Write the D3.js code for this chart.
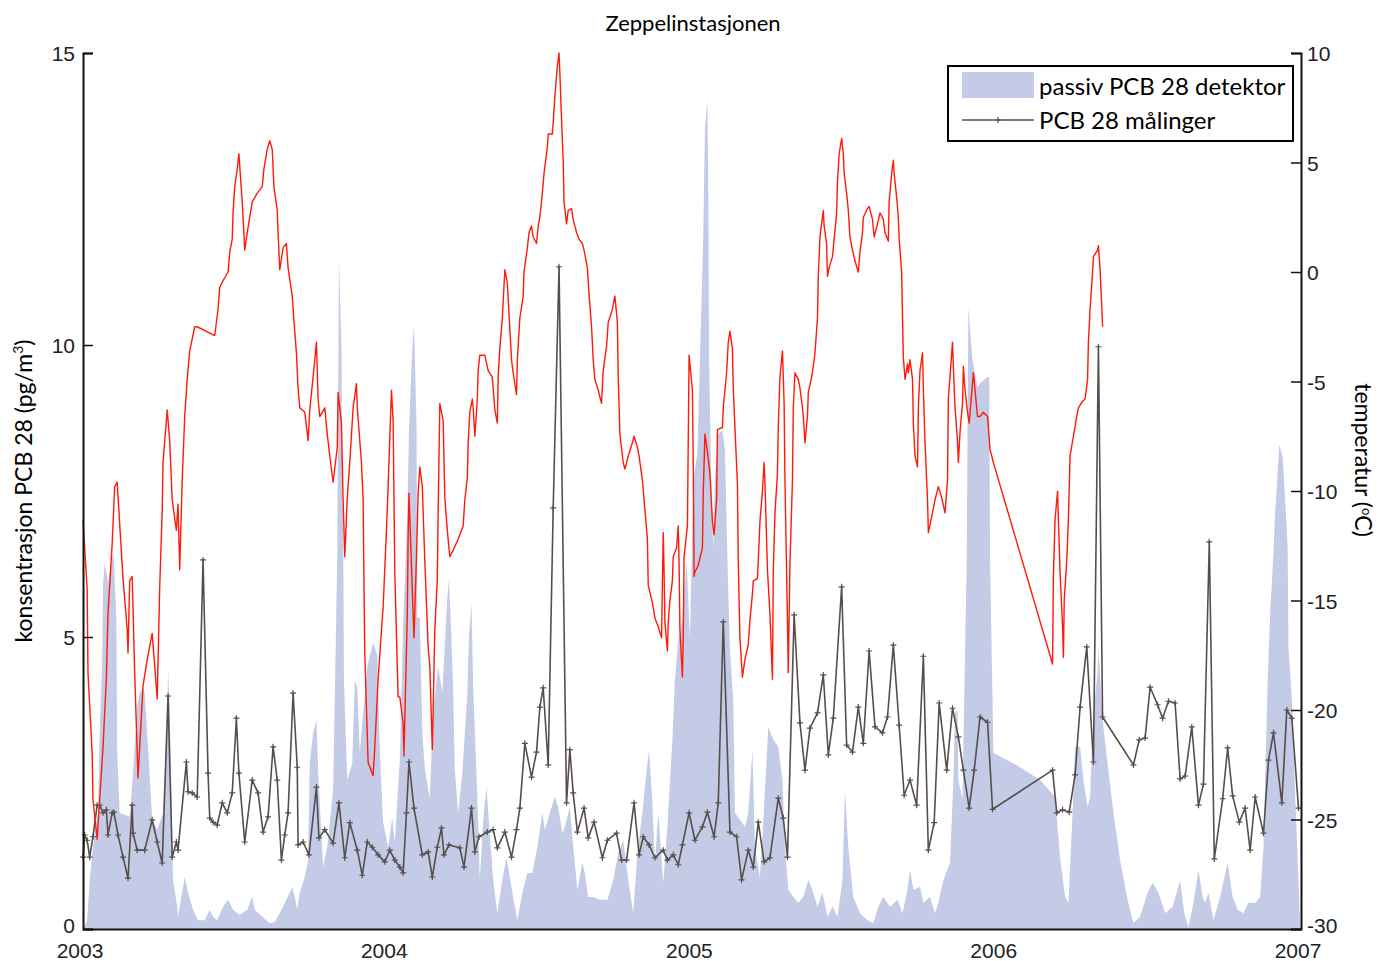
<!DOCTYPE html>
<html>
<head>
<meta charset="utf-8">
<script src="https://cdn.jsdelivr.net/npm/d3@7"></script>
<style>
  body { margin: 0; background: #fff; }
  svg { display: block; }
  .tick-label { font-family: "Liberation Sans Narrow", "Liberation Sans", sans-serif; font-size: 21px; fill: #222; }
  .txt { font-family: Lato, "Open Sans", sans-serif; fill: #000; }
</style>
</head>
<body>
<div id="chart"></div>
<script>
// days since 2003-01-01
const yearTicks = [0, 365, 731, 1096, 1461];
const yearLabels = ["2003", "2004", "2005", "2006", "2007"];
const leftTicks = [0, 5, 10, 15];
const rightTicks = [10, 5, 0, -5, -10, -15, -20, -25, -30];

// passiv PCB 28 detektor [day, pg/m3]
const passivData = [[0,0],[5,0.15],[8,0.84],[12,1.40],[18,1.99],[20,3.36],[23,4.55],[24,5.86],[26,6.27],[29,6.03],[30,5.92],[32,6.10],[36,6.44],[37,6.37],[40,5.29],[41,3.01],[44,1.99],[56,1.92],[60,2.67],[65,3.80],[68,4.04],[72,4.14],[74,4.04],[78,3.12],[83,1.87],[89,1.70],[96,1.99],[101,3.70],[102,4.43],[104,3.80],[108,0.84],[113,0.38],[114,0.21],[122,0.89],[126,0.62],[132,0.33],[138,0.15],[146,0.15],[152,0.33],[156,0.21],[161,0.15],[168,0.38],[174,0.50],[180,0.33],[188,0.24],[197,0.33],[203,0.55],[206,0.33],[215,0.21],[224,0.10],[230,0.12],[240,0.38],[251,0.72],[254,0.55],[257,0.33],[260,0.62],[266,0.89],[270,1.18],[272,2.84],[276,3.36],[280,3.58],[282,2.72],[288,1.06],[293,1.40],[300,2.38],[305,6.37],[307,11.49],[310,10.00],[311,7.35],[312,7.12],[313,4.26],[317,2.55],[323,2.84],[326,4.26],[329,4.14],[332,3.01],[336,3.70],[341,4.49],[348,4.90],[353,4.69],[356,3.08],[360,1.83],[366,1.40],[371,1.90],[374,1.47],[380,2.89],[384,5.17],[389,7.14],[391,8.53],[395,9.93],[397,10.36],[400,8.68],[401,5.33],[404,5.33],[407,3.36],[410,2.74],[416,2.24],[420,3.72],[426,4.49],[431,4.06],[437,5.67],[439,5.98],[442,4.95],[444,4.09],[446,2.72],[450,1.99],[455,2.67],[461,4.04],[463,5.00],[466,5.58],[468,4.14],[473,2.26],[476,0.84],[480,1.87],[484,2.43],[487,1.82],[492,0.84],[497,0.27],[503,0.84],[508,1.23],[515,0.62],[521,0.15],[527,0.62],[533,0.96],[539,0.96],[545,1.40],[551,1.99],[554,1.70],[560,1.99],[566,2.26],[570,2.09],[575,1.64],[578,1.75],[584,2.09],[588,1.40],[593,0.67],[599,1.13],[602,0.96],[606,0.55],[612,0.55],[620,0.50],[629,0.50],[636,0.84],[642,1.30],[648,1.52],[654,0.84],[660,0.27],[665,1.30],[671,1.99],[674,2.43],[679,3.07],[683,2.16],[686,1.13],[690,1.99],[696,0.79],[701,1.75],[707,3.24],[710,4.26],[714,4.95],[719,5.29],[724,6.32],[728,4.95],[732,7.69],[737,8.15],[740,9.74],[744,11.85],[745,12.77],[746,13.68],[749,14.20],[750,12.71],[751,9.74],[754,7.35],[756,6.54],[758,7.69],[762,8.49],[767,8.54],[770,8.20],[773,6.32],[776,4.78],[780,3.92],[782,1.99],[788,1.87],[794,1.75],[798,1.99],[803,3.07],[806,1.40],[812,0.89],[816,1.82],[822,3.46],[828,3.24],[834,3.12],[839,2.55],[842,1.40],[846,0.67],[852,0.55],[858,0.45],[864,0.55],[870,0.84],[875,0.67],[881,0.38],[887,0.62],[893,0.21],[899,0.38],[905,0.21],[911,0.84],[914,2.38],[918,1.40],[924,0.55],[932,0.27],[941,0.15],[948,0.10],[954,0.38],[960,0.55],[968,0.38],[977,0.50],[983,0.27],[989,0.67],[992,1.01],[996,0.67],[1004,0.72],[1008,0.45],[1016,0.55],[1022,0.27],[1026,0.45],[1032,0.84],[1038,1.06],[1040,1.13],[1044,2.55],[1046,3.70],[1049,3.75],[1050,2.55],[1055,2.21],[1057,3.92],[1060,6.32],[1062,10.65],[1064,10.26],[1067,9.74],[1073,9.28],[1076,9.35],[1085,9.45],[1087,9.45],[1088,6.32],[1091,3.92],[1092,3.01],[1100,2.96],[1124,2.77],[1148,2.55],[1166,2.26],[1172,1.23],[1178,0.55],[1182,0.45],[1187,1.99],[1190,3.12],[1196,3.12],[1200,2.55],[1205,2.09],[1208,2.26],[1212,3.70],[1217,4.38],[1218,4.83],[1223,3.58],[1229,2.84],[1236,1.99],[1244,1.18],[1253,0.50],[1260,0.10],[1268,0.21],[1277,0.62],[1283,0.79],[1290,0.62],[1298,0.27],[1307,0.38],[1313,0.67],[1316,0.84],[1321,0.27],[1326,0.03],[1332,0.45],[1338,1.01],[1343,0.55],[1346,0.45],[1350,0.62],[1356,0.15],[1364,0.55],[1373,1.13],[1379,0.55],[1385,0.33],[1392,0.27],[1398,0.45],[1406,0.45],[1412,0.55],[1416,1.40],[1421,4.26],[1424,5.41],[1428,6.44],[1430,7.12],[1435,8.29],[1439,8.08],[1442,7.35],[1445,6.54],[1446,4.83],[1451,3.70],[1454,2.26],[1458,0.84],[1460,0.03]];

// PCB 28 målinger [day, pg/m3]
const maalingData = [[0,1.23],[2,1.61],[5,1.52],[8,1.23],[12,1.58],[17,2.12],[20,2.12],[24,1.99],[28,2.04],[30,1.61],[35,1.99],[37,2.00],[42,1.61],[48,1.23],[54,0.87],[59,2.12],[60,1.64],[65,1.35],[74,1.35],[83,1.87],[89,1.49],[95,1.13],[102,3.99],[107,1.23],[112,1.49],[114,1.35],[124,2.86],[126,2.35],[131,2.33],[137,2.26],[144,6.32],[150,2.67],[152,1.90],[156,1.83],[161,1.78],[167,2.16],[173,1.99],[179,2.33],[184,3.61],[187,2.67],[194,1.49],[203,2.55],[210,2.33],[216,1.66],[222,1.92],[228,3.12],[233,2.55],[238,1.18],[242,1.61],[246,1.99],[252,4.04],[257,2.77],[258,1.44],[264,1.49],[271,1.27],[280,2.43],[283,1.56],[290,1.70],[300,1.47],[307,2.16],[314,1.22],[320,1.82],[329,1.35],[335,0.92],[341,1.49],[347,1.40],[354,1.27],[362,1.15],[368,1.35],[374,1.18],[380,1.06],[384,0.96],[388,1.99],[391,2.86],[397,2.07],[407,1.27],[414,1.32],[419,0.89],[425,1.40],[430,1.73],[433,1.27],[439,1.44],[452,1.39],[457,1.06],[466,2.07],[470,1.32],[475,1.58],[485,1.66],[492,1.70],[497,1.39],[506,1.66],[514,1.23],[520,1.70],[524,2.07],[530,3.18],[538,2.60],[544,3.03],[548,3.80],[552,4.13],[558,2.81],[564,7.21],[571,11.34],[580,2.16],[584,3.07],[588,2.33],[593,1.66],[601,2.07],[606,1.56],[613,1.83],[623,1.22],[629,1.52],[640,1.64],[646,1.18],[652,1.18],[661,2.16],[667,1.27],[672,1.58],[679,1.44],[686,1.22],[696,1.35],[701,1.18],[708,1.27],[714,1.10],[719,1.44],[727,1.99],[734,1.52],[743,1.75],[749,2.00],[757,1.58],[762,2.16],[768,5.26],[776,1.66],[784,1.58],[790,0.84],[798,1.35],[804,1.06],[810,1.83],[817,1.15],[824,1.22],[834,2.24],[840,1.90],[845,1.23],[853,5.38],[860,3.53],[866,2.72],[872,3.44],[881,3.70],[888,4.35],[894,2.98],[900,3.61],[910,5.86],[916,3.15],[923,3.03],[930,3.80],[936,3.18],[943,4.76],[950,3.46],[959,3.36],[965,3.63],[972,4.86],[979,3.49],[985,2.29],[992,2.55],[1000,2.12],[1008,4.67],[1014,1.35],[1021,1.82],[1027,3.87],[1036,2.72],[1043,3.78],[1050,3.29],[1056,2.72],[1063,2.07],[1069,2.72],[1076,3.63],[1085,3.54],[1091,2.05],[1163,2.72],[1168,1.99],[1175,2.04],[1183,2.00],[1190,2.64],[1196,3.80],[1204,4.83],[1212,2.86],[1218,9.97],[1223,3.63],[1260,2.81],[1267,3.24],[1274,3.27],[1280,4.14],[1289,3.84],[1295,3.61],[1302,3.90],[1310,3.87],[1316,2.57],[1322,2.62],[1330,3.46],[1338,2.12],[1344,2.48],[1351,6.63],[1357,1.20],[1367,2.23],[1373,3.10],[1379,2.28],[1387,1.83],[1394,2.07],[1400,1.35],[1406,2.26],[1416,1.64],[1422,2.89],[1428,3.36],[1438,2.16],[1444,3.75],[1450,3.61],[1458,2.07]];

// temperatur [day, degC]
const tempData = [[0,-11.3],[5,-14.5],[6,-18.3],[11,-22.0],[12,-24.1],[17,-25.9],[20,-24.1],[24,-21.7],[28,-18.6],[30,-15.6],[35,-12.4],[38,-9.8],[41,-9.6],[44,-11.5],[48,-14.0],[53,-16.3],[54,-17.4],[56,-14.1],[59,-13.9],[62,-18.3],[66,-23.1],[68,-21.7],[72,-18.9],[77,-17.7],[83,-16.5],[86,-18.0],[89,-19.5],[92,-14.4],[95,-10.9],[96,-8.7],[101,-6.3],[104,-7.7],[107,-10.4],[112,-11.8],[114,-10.6],[116,-13.6],[119,-9.5],[122,-6.6],[125,-4.9],[128,-3.6],[134,-2.5],[137,-2.5],[158,-2.9],[162,-1.7],[164,-0.7],[168,-0.4],[174,0.0],[176,0.9],[179,1.5],[180,2.7],[182,3.9],[185,4.7],[187,5.4],[191,3.2],[194,1.0],[197,1.8],[203,3.2],[209,3.6],[215,3.9],[217,4.7],[221,5.6],[224,6.0],[227,5.6],[229,3.9],[233,2.8],[234,1.8],[236,0.1],[240,1.1],[244,1.3],[246,0.2],[251,-1.1],[253,-2.2],[256,-3.7],[258,-5.3],[260,-6.2],[266,-6.4],[270,-7.7],[272,-6.3],[276,-4.8],[280,-3.2],[282,-5.8],[284,-6.6],[290,-6.2],[293,-7.4],[296,-8.4],[300,-9.6],[305,-8.0],[306,-5.5],[310,-6.9],[312,-10.4],[314,-13.0],[317,-10.3],[320,-8.7],[324,-6.2],[328,-5.1],[329,-6.2],[334,-8.7],[336,-10.4],[337,-14.1],[338,-17.4],[342,-22.4],[348,-23.0],[350,-21.7],[354,-18.6],[360,-15.3],[364,-11.8],[366,-9.8],[370,-5.4],[372,-6.8],[374,-13.7],[378,-19.4],[380,-19.4],[384,-20.6],[385,-22.1],[389,-15.6],[390,-12.1],[391,-10.1],[392,-11.2],[396,-15.6],[397,-16.7],[400,-13.0],[402,-10.1],[404,-8.9],[407,-9.8],[410,-13.2],[414,-17.1],[416,-18.0],[419,-21.8],[420,-20.1],[422,-16.3],[425,-14.1],[426,-11.0],[428,-6.0],[432,-6.8],[434,-10.3],[437,-11.8],[440,-13.0],[444,-12.7],[450,-12.2],[456,-11.6],[458,-10.4],[461,-9.4],[462,-7.8],[464,-6.4],[467,-5.8],[468,-6.2],[470,-7.5],[473,-5.8],[474,-4.5],[476,-3.8],[482,-3.8],[486,-4.5],[491,-4.8],[494,-6.3],[497,-6.9],[498,-4.8],[500,-3.5],[503,-2.1],[506,0.1],[509,-0.5],[511,-1.9],[514,-4.0],[516,-4.6],[520,-5.6],[521,-4.0],[524,-2.1],[528,-1.1],[529,0.0],[533,1.1],[535,1.8],[538,2.1],[540,1.6],[544,1.3],[546,2.1],[548,2.5],[551,3.6],[553,4.5],[557,5.7],[558,6.3],[563,6.3],[564,6.8],[566,8.0],[569,9.4],[571,10.0],[572,9.1],[574,7.0],[576,5.1],[577,3.2],[580,2.2],[582,2.8],[586,2.9],[588,2.4],[592,1.8],[595,1.5],[599,1.3],[601,1.0],[605,0.2],[607,-1.0],[610,-2.5],[612,-4.0],[614,-4.9],[618,-5.4],[622,-6.0],[624,-4.5],[628,-3.4],[630,-2.3],[635,-1.7],[638,-1.1],[641,-2.3],[642,-4.8],[644,-7.4],[648,-8.7],[650,-9.0],[654,-8.4],[659,-7.8],[661,-7.5],[665,-8.0],[667,-8.4],[671,-9.5],[677,-12.2],[678,-14.3],[683,-15.1],[686,-15.8],[690,-16.2],[694,-16.7],[695,-14.2],[696,-11.9],[697,-13.7],[698,-16.0],[701,-17.3],[702,-16.0],[704,-15.0],[707,-14.1],[708,-13.0],[712,-12.6],[714,-11.6],[715,-13.3],[716,-16.3],[719,-18.5],[720,-16.7],[721,-13.0],[725,-11.6],[727,-3.8],[731,-5.4],[732,-8.7],[733,-13.9],[734,-13.7],[738,-13.4],[743,-12.6],[744,-10.1],[746,-7.4],[749,-8.2],[752,-9.2],[755,-11.4],[757,-12.0],[760,-10.4],[761,-7.2],[767,-7.1],[768,-6.2],[772,-4.6],[774,-3.2],[776,-2.7],[779,-3.5],[780,-5.3],[782,-7.1],[785,-9.7],[786,-13.2],[788,-16.7],[791,-18.5],[794,-17.7],[798,-17.0],[800,-15.9],[803,-14.7],[804,-14.1],[809,-14.0],[810,-13.2],[812,-11.4],[815,-10.0],[817,-8.7],[818,-9.6],[821,-13.6],[824,-15.6],[827,-18.6],[828,-13.7],[830,-11.0],[833,-9.2],[834,-7.1],[836,-4.8],[839,-3.6],[841,-6.0],[842,-9.5],[845,-15.9],[846,-18.3],[848,-13.3],[851,-9.5],[852,-6.2],[854,-4.6],[858,-4.9],[860,-5.3],[863,-6.2],[864,-6.6],[866,-7.8],[869,-6.6],[870,-5.5],[874,-4.8],[876,-4.3],[878,-3.7],[881,-2.1],[882,-0.2],[884,1.6],[888,2.8],[889,2.1],[892,1.3],[893,-0.2],[895,0.2],[899,0.7],[901,1.5],[904,2.7],[905,4.1],[907,5.4],[910,6.1],[912,5.4],[913,4.5],[916,3.6],[918,2.8],[920,1.6],[923,1.0],[926,0.5],[930,0.0],[932,0.9],[935,1.8],[936,2.5],[941,2.9],[943,3.0],[947,2.4],[949,1.6],[953,2.2],[956,2.7],[960,2.4],[962,1.8],[966,1.4],[967,3.2],[970,4.5],[972,5.1],[973,4.5],[976,3.4],[978,2.5],[979,1.5],[982,0.0],[983,-2.1],[984,-3.9],[986,-4.9],[989,-4.2],[990,-4.6],[992,-4.0],[995,-4.9],[996,-6.9],[998,-8.4],[1001,-8.9],[1002,-6.2],[1004,-4.5],[1007,-3.7],[1008,-5.3],[1010,-7.8],[1013,-10.4],[1014,-11.9],[1019,-11.0],[1022,-10.4],[1026,-9.8],[1030,-10.3],[1034,-11.0],[1037,-9.5],[1038,-5.8],[1043,-3.2],[1044,-4.3],[1046,-6.2],[1049,-7.7],[1050,-8.7],[1052,-7.3],[1055,-6.0],[1056,-4.3],[1058,-5.4],[1061,-6.4],[1063,-6.9],[1066,-5.5],[1068,-4.6],[1070,-5.4],[1073,-6.6],[1076,-6.6],[1080,-6.4],[1085,-6.6],[1086,-7.1],[1088,-8.1],[1092,-8.7],[1163,-17.9],[1164,-13.9],[1166,-11.3],[1169,-10.0],[1170,-11.3],[1172,-13.7],[1175,-16.2],[1176,-17.6],[1177,-15.0],[1180,-13.2],[1182,-11.3],[1184,-8.4],[1188,-7.5],[1192,-6.6],[1194,-6.2],[1199,-5.9],[1202,-5.8],[1205,-4.9],[1206,-3.2],[1208,-1.7],[1211,0.0],[1212,0.7],[1217,1.0],[1218,1.2],[1220,0.1],[1222,-1.6],[1223,-2.5]];

const width = 1381, height = 961;
const marginLeft = 83, marginRight = 80, marginTop = 53, marginBottom = 32;

const blueFill = "#c3cbe6",
    greyLine = "#574e4b",
    redLine = "#ff1a0a";

const svg = d3.select("#chart").append("svg")
    .attr("width", width)
    .attr("height", height);

const x = d3.scaleLinear().domain([0, 1461]).range([marginLeft, width - marginRight]);
const yL = d3.scaleLinear().domain([0, 15]).range([height - marginBottom, marginTop]);
const yR = d3.scaleLinear().domain([-30, 10]).range([height - marginBottom, marginTop]);

// area for the passive detector
const area = d3.area()
    .x(d => x(d[0]))
    .y0(yL(0))
    .y1(d => yL(d[1]));

svg.append("path")
    .datum(passivData)
    .attr("fill", blueFill)
    .attr("d", area);

// measured series, line plus '+' markers
const lineL = d3.line().x(d => x(d[0])).y(d => yL(d[1]));
svg.append("path")
    .datum(maalingData)
    .attr("fill", "none")
    .attr("stroke", greyLine)
    .attr("stroke-width", 1.6)
    .attr("stroke-linejoin", "round")
    .attr("d", lineL);

svg.append("g")
    .attr("stroke", greyLine)
    .attr("stroke-width", 1.2)
    .selectAll("path")
    .data(maalingData)
    .join("path")
    .attr("d", d => `M${x(d[0]) - 3},${yL(d[1])}h6M${x(d[0])},${yL(d[1]) - 3}v6`);

// temperature on the right axis
const lineR = d3.line().x(d => x(d[0])).y(d => yR(d[1]));
svg.append("path")
    .datum(tempData)
    .attr("fill", "none")
    .attr("stroke", redLine)
    .attr("stroke-width", 1.4)
    .attr("stroke-linejoin", "round")
    .attr("d", lineR);

// axes
const axisColor = "#111";
const leftAxis = svg.append("g")
    .attr("transform", `translate(${marginLeft},0)`)
    .call(d3.axisRight(yL).tickValues(leftTicks).tickSize(10).tickFormat(""));
const rightAxis = svg.append("g")
    .attr("transform", `translate(${width - marginRight},0)`)
    .call(d3.axisLeft(yR).tickValues(rightTicks).tickSize(10).tickFormat(""));
const bottomAxis = svg.append("g")
    .attr("transform", `translate(0,${height - marginBottom})`)
    .call(d3.axisBottom(x).tickValues(yearTicks).tickSize(0).tickFormat(""));

[leftAxis, rightAxis, bottomAxis].forEach(g => {
    g.select(".domain").attr("stroke", axisColor).attr("stroke-width", 2);
    g.selectAll(".tick line").attr("stroke", axisColor).attr("stroke-width", 1.5);
});

// tick labels (bottom ones nudged up a little so they clear the year labels)
svg.append("g").selectAll("text")
    .data(leftTicks)
    .join("text")
    .attr("class", "tick-label")
    .attr("x", marginLeft - 8)
    .attr("y", d => yL(d) + (d == 0 ? 4 : 8))
    .attr("text-anchor", "end")
    .text(d => d);

svg.append("g").selectAll("text")
    .data(rightTicks)
    .join("text")
    .attr("class", "tick-label")
    .attr("x", width - marginRight + 6)
    .attr("y", d => yR(d) + (d == -30 ? 4 : 8))
    .text(d => d);

svg.append("g").selectAll("text")
    .data(yearTicks)
    .join("text")
    .attr("class", "tick-label")
    .attr("x", d => x(d) - 3)
    .attr("y", height - marginBottom + 29)
    .attr("text-anchor", "middle")
    .text((d, i) => yearLabels[i]);

// title and axis labels
svg.append("text")
    .attr("class", "txt")
    .attr("x", 693)
    .attr("y", 31)
    .attr("text-anchor", "middle")
    .attr("font-size", 22)
    .text("Zeppelinstasjonen");

const ylab = svg.append("text")
    .attr("class", "txt")
    .attr("font-size", 23)
    .attr("text-anchor", "middle")
    .attr("transform", `translate(32,${(marginTop + height - marginBottom) / 2}) rotate(-90)`);
ylab.append("tspan").text("konsentrasjon PCB 28 (pg/m");
ylab.append("tspan").attr("font-size", 14).attr("dy", -9).text("3");
ylab.append("tspan").attr("dy", 9).text(")");

const rlab = svg.append("text")
    .attr("class", "txt")
    .attr("font-size", 23)
    .attr("text-anchor", "middle")
    .attr("transform", `translate(1355,460) rotate(90)`);
rlab.append("tspan").text("temperatur (");
rlab.append("tspan").attr("font-size", 13).attr("dy", -7).text("o");
rlab.append("tspan").attr("dy", 7).text("C)");

// legend
const legend = svg.append("g").attr("transform", "translate(948,66)");
legend.append("rect")
    .attr("width", 345).attr("height", 75)
    .attr("fill", "#fff")
    .attr("stroke", "#000").attr("stroke-width", 2);
legend.append("rect")
    .attr("x", 14).attr("y", 6).attr("width", 72).attr("height", 26)
    .attr("fill", blueFill);
legend.append("text")
    .attr("class", "txt").attr("font-size", 24)
    .attr("x", 91).attr("y", 29)
    .text("passiv PCB 28 detektor");
legend.append("line")
    .attr("x1", 14).attr("x2", 86).attr("y1", 54).attr("y2", 54)
    .attr("stroke", greyLine).attr("stroke-width", 1.6);
legend.append("path")
    .attr("d", "M47,54h6M50,51v6")
    .attr("stroke", greyLine).attr("stroke-width", 1.2);
legend.append("text")
    .attr("class", "txt").attr("font-size", 24)
    .attr("x", 91).attr("y", 63)
    .text("PCB 28 målinger");
</script>
</body>
</html>
